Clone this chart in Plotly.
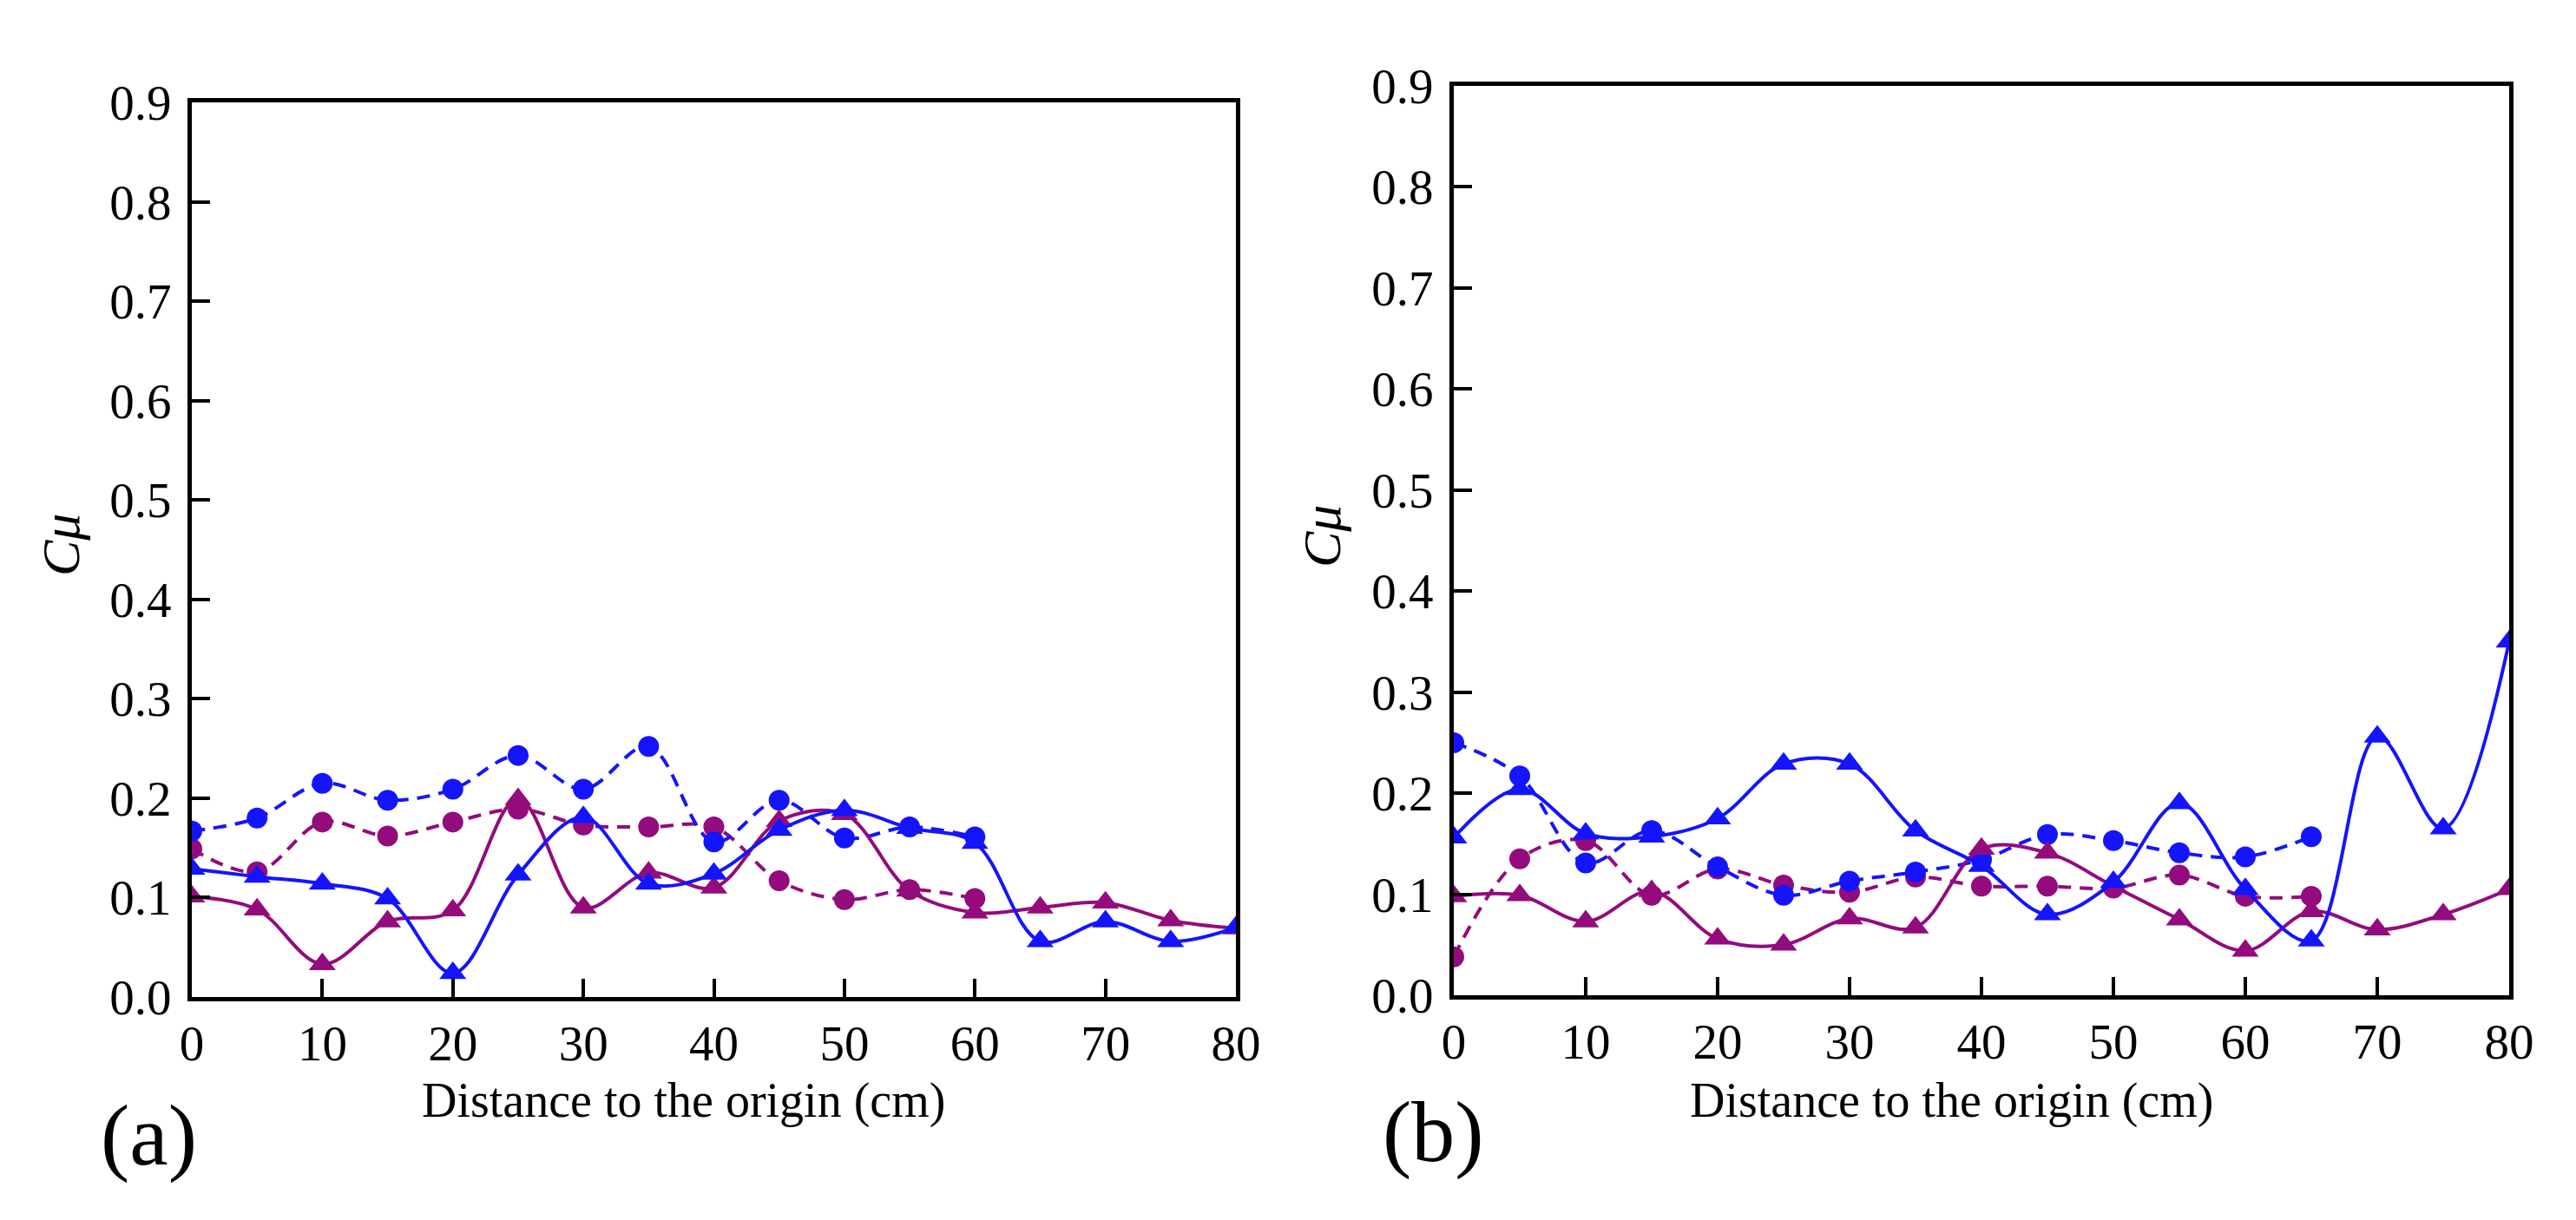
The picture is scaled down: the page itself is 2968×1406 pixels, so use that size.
import plotly.graph_objects as go

W, H = 2968, 1406

# ---------------- data ----------------
x_a_circ = [0, 5, 10, 15, 20, 25, 30, 35, 40, 45, 50, 55, 60]
a_blue_circ = [0.167, 0.180, 0.215, 0.198, 0.209, 0.243, 0.209, 0.252, 0.156, 0.198, 0.160, 0.171, 0.161]
a_purple_circ = [0.149, 0.126, 0.176, 0.162, 0.176, 0.189, 0.173, 0.171, 0.171, 0.117, 0.098, 0.108, 0.099]

x_a_tri = [0, 5, 10, 15, 20, 25, 30, 35, 40, 45, 50, 55, 60, 65, 70, 75, 80]
a_blue_tri = [0.129, 0.121, 0.114, 0.099, 0.024, 0.123, 0.181, 0.114, 0.124, 0.168, 0.188, 0.170, 0.155, 0.056, 0.076, 0.056, 0.070]
a_purple_tri = [0.101, 0.088, 0.033, 0.076, 0.087, 0.199, 0.090, 0.125, 0.110, 0.177, 0.184, 0.107, 0.085, 0.090, 0.095, 0.077, 0.069]

x_b_circ = [0, 5, 10, 15, 20, 25, 30, 35, 40, 45, 50, 55, 60, 65]
b_blue_circ = [0.250, 0.217, 0.131, 0.163, 0.127, 0.099, 0.113, 0.122, 0.134, 0.159, 0.153, 0.141, 0.137, 0.157]
b_purple_circ = [0.038, 0.135, 0.153, 0.099, 0.125, 0.109, 0.102, 0.117, 0.108, 0.108, 0.106, 0.119, 0.098, 0.098]

x_b_tri = [0, 5, 10, 15, 20, 25, 30, 35, 40, 45, 50, 55, 60, 65, 70, 75, 80]
b_blue_tri = [0.156, 0.204, 0.160, 0.157, 0.175, 0.229, 0.229, 0.163, 0.128, 0.080, 0.112, 0.190, 0.105, 0.054, 0.256, 0.165, 0.350]
b_purple_tri = [0.098, 0.099, 0.073, 0.103, 0.056, 0.050, 0.076, 0.067, 0.145, 0.141, 0.108, 0.075, 0.044, 0.083, 0.065, 0.080, 0.105]

x_ticks = [0, 10, 20, 30, 40, 50, 60, 70, 80]
y_ticks = [0.0, 0.1, 0.2, 0.3, 0.4, 0.5, 0.6, 0.7, 0.8, 0.9]
x_title = "Distance to the origin (cm)"
y_title = "<i>C</i><i>μ</i>"
panel_labels = ["(a)", "(b)"]

BLUE = "#1414FF"
PURPLE = "#930B7D"
FONT = "Liberation Serif, Times New Roman, serif"


def px_x(v):
    return v / W


def px_y(v):
    return 1 - v / H


fig = go.Figure()


def add_series(x, y, color, symbol, dashed, xa, ya):
    fig.add_trace(go.Scatter(
        x=x, y=y, xaxis=xa, yaxis=ya, mode="lines+markers",
        line=dict(color=color, width=4, shape="spline", smoothing=1.0,
                  dash="15px,10px" if dashed else "solid"),
        marker=dict(symbol=symbol, size=24 if symbol == "circle" else 27, color=color,
                    line=dict(width=0)),
        showlegend=False, cliponaxis=True,
    ))


# panel (a)
add_series(x_a_circ, a_purple_circ, PURPLE, "circle", True, "x", "y")
add_series(x_a_circ, a_blue_circ, BLUE, "circle", True, "x", "y")
add_series(x_a_tri, a_purple_tri, PURPLE, "triangle-up", False, "x", "y")
add_series(x_a_tri, a_blue_tri, BLUE, "triangle-up", False, "x", "y")
# panel (b)
add_series(x_b_circ, b_purple_circ, PURPLE, "circle", True, "x2", "y2")
add_series(x_b_circ, b_blue_circ, BLUE, "circle", True, "x2", "y2")
add_series(x_b_tri, b_purple_tri, PURPLE, "triangle-up", False, "x2", "y2")
add_series(x_b_tri, b_blue_tri, BLUE, "triangle-up", False, "x2", "y2")

tickfont = dict(family=FONT, size=57, color="black")

xaxis_common = dict(range=[0, 80], tickvals=x_ticks, ticktext=[str(v) for v in x_ticks],
                     ticks="inside", ticklen=21, tickwidth=4, tickcolor="black",
                     showline=True, linecolor="black", linewidth=5, mirror=True,
                     showgrid=False, zeroline=False, tickfont=tickfont,
                     ticklabelstandoff=0, automargin=False)
yaxis_common = dict(range=[0, 0.9], tickvals=y_ticks, ticktext=[f"{v:.1f}" for v in y_ticks],
                     ticks="inside", ticklen=21, tickwidth=4, tickcolor="black",
                     showline=True, linecolor="black", linewidth=5, mirror=True,
                     showgrid=False, zeroline=False, tickfont=tickfont,
                     ticklabelstandoff=7, automargin=False)

# plot area pixel boxes: (left, right, top, bottom)
box_a = (213, 1416, 110, 1141)
box_b = (1667, 2883, 91, 1139)

fig.update_layout(
    width=W, height=H, margin=dict(l=0, r=0, t=0, b=0, autoexpand=False),
    paper_bgcolor="white", plot_bgcolor="white",
    xaxis=dict(domain=[px_x(box_a[0]), px_x(box_a[1])], anchor="y", **xaxis_common),
    yaxis=dict(domain=[px_y(box_a[3]), px_y(box_a[2])], anchor="x", **yaxis_common),
    xaxis2=dict(domain=[px_x(box_b[0]), px_x(box_b[1])], anchor="y2", **xaxis_common),
    yaxis2=dict(domain=[px_y(box_b[3]), px_y(box_b[2])], anchor="x2", **yaxis_common),
)

annotations = []
for box, lab, cmu_xy, lab_xy in [
    (box_a, panel_labels[0], (62, 620), (163, 1300)),
    (box_b, panel_labels[1], (1515, 610), (1643, 1296)),
]:
    cx = (box[0] + box[1]) / 2 - 35
    annotations.append(dict(text=x_title, x=px_x(cx), y=px_y(1260), xref="paper", yref="paper",
                            xanchor="center", yanchor="middle", showarrow=False,
                            font=dict(family=FONT, size=56, color="black")))
    annotations.append(dict(text=y_title, x=px_x(cmu_xy[0]), y=px_y(cmu_xy[1]), xref="paper",
                            yref="paper", xanchor="center", yanchor="middle", showarrow=False,
                            textangle=-90, font=dict(family=FONT, size=62, color="black")))
    annotations.append(dict(text=lab, x=px_x(lab_xy[0]), y=px_y(lab_xy[1]), xref="paper",
                            yref="paper", xanchor="center", yanchor="middle", showarrow=False,
                            font=dict(family=FONT, size=100, color="black")))
fig.update_layout(annotations=annotations)

fig.write_html("out.html")
